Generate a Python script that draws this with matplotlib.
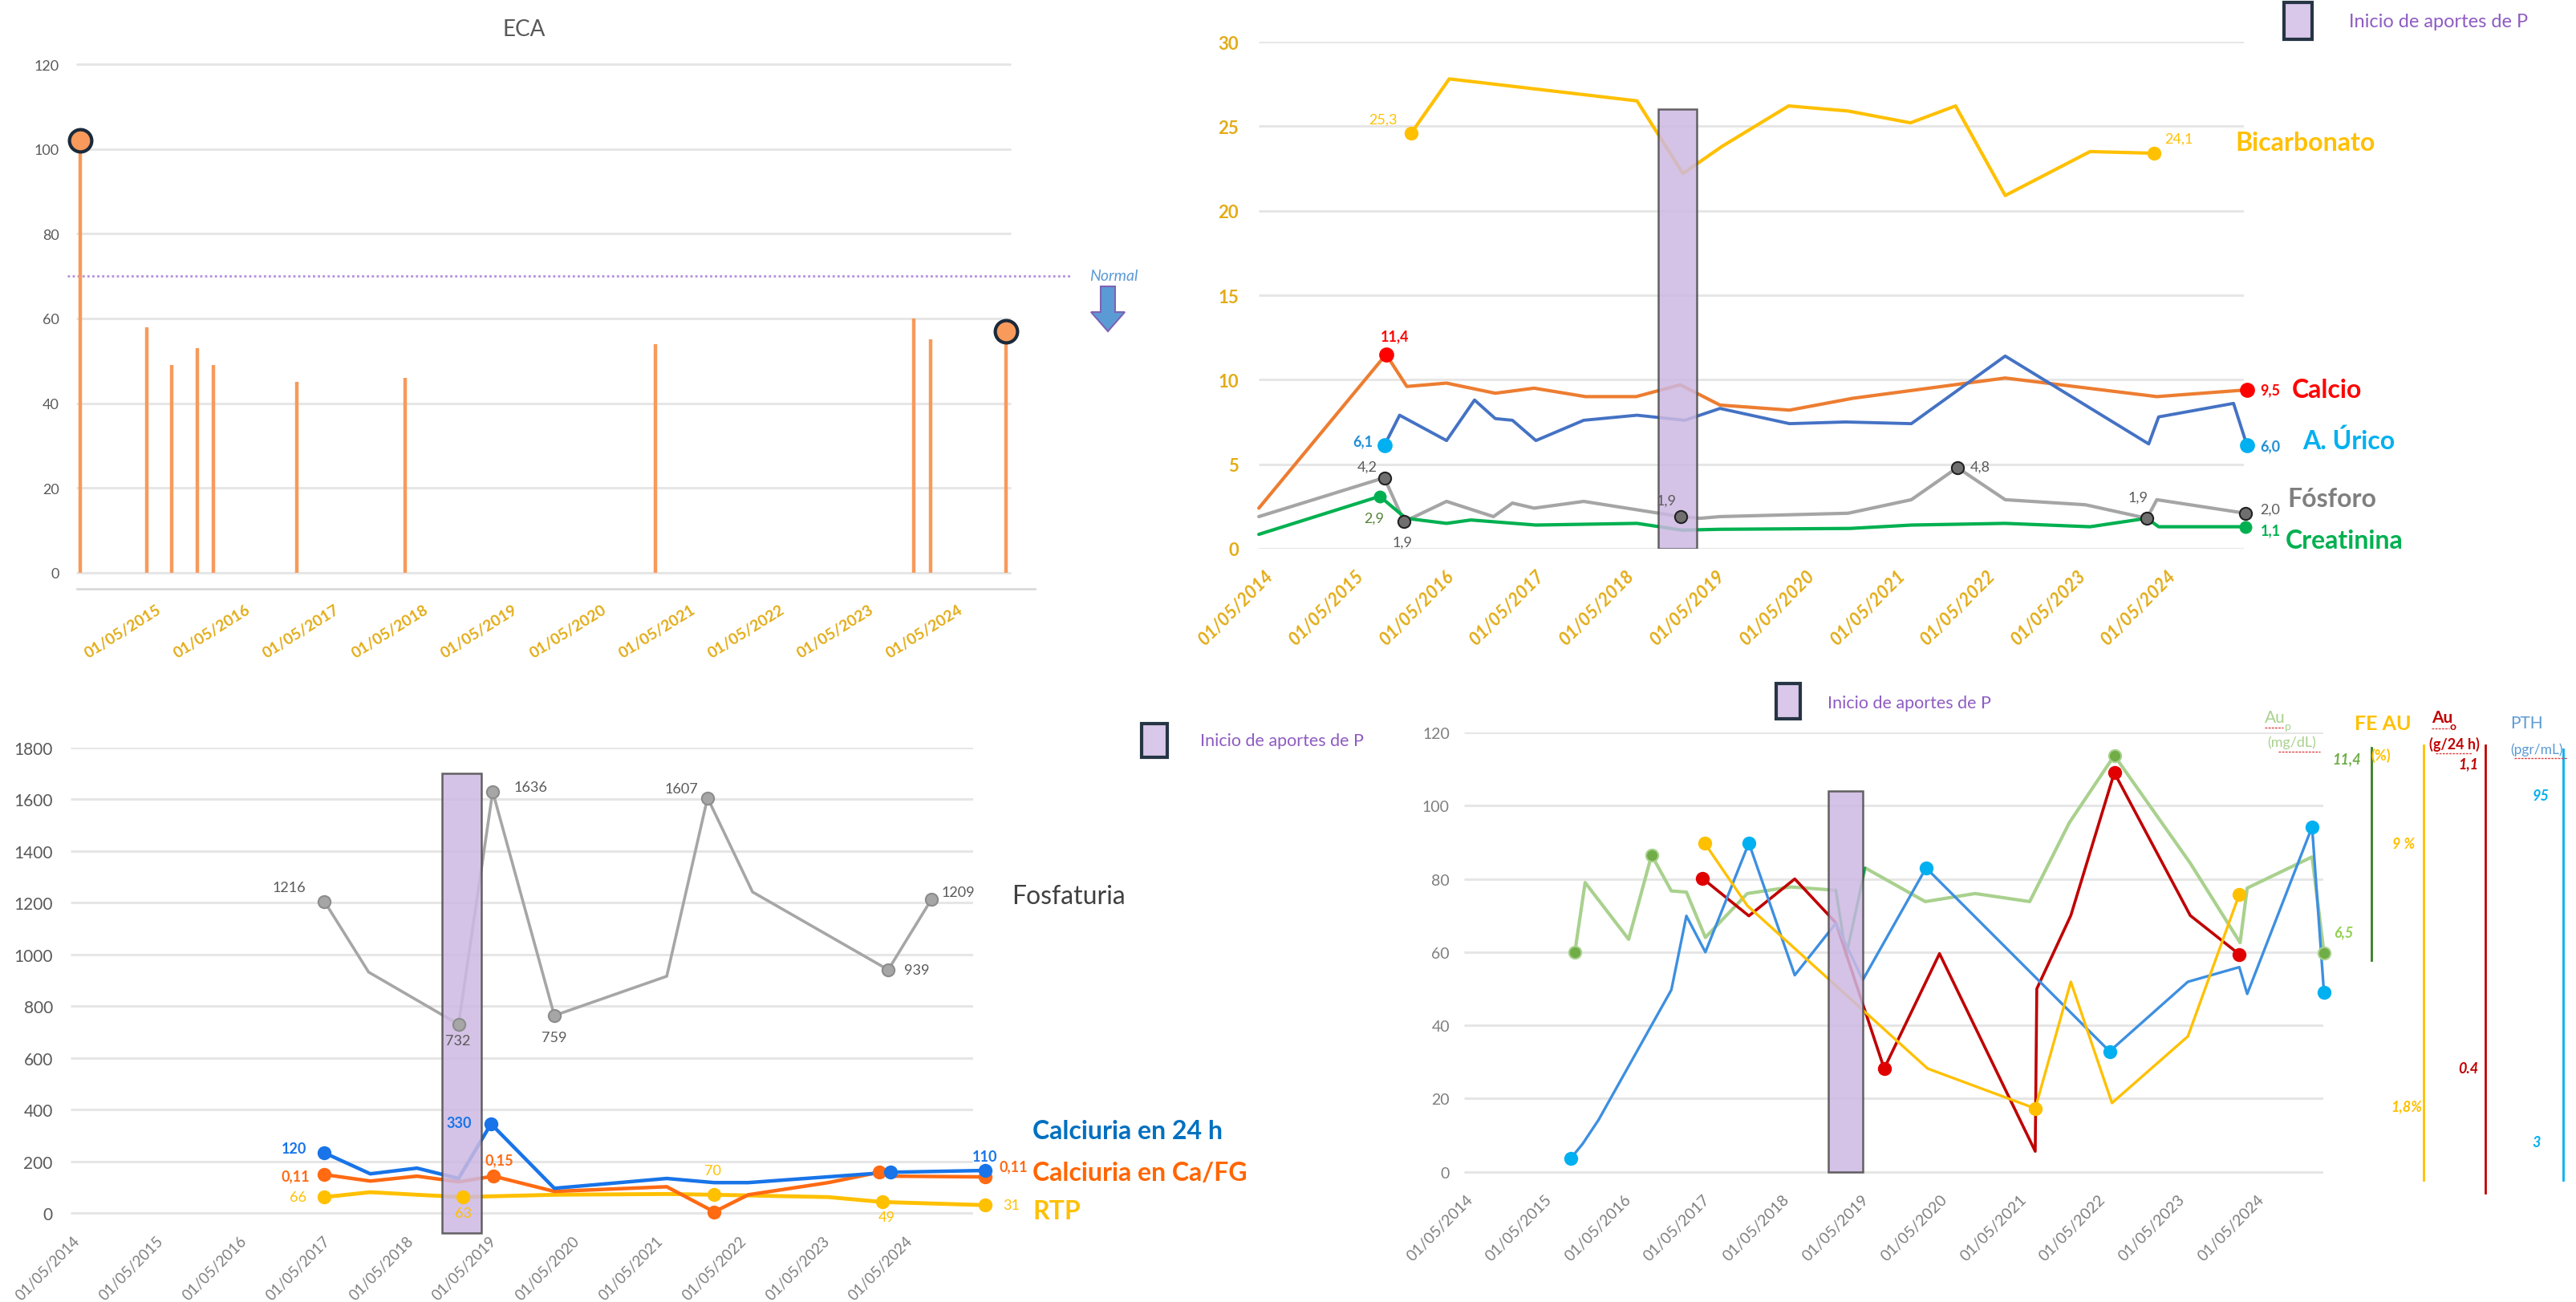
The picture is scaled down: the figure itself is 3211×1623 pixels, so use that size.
import matplotlib
matplotlib.use("Agg")
import matplotlib.pyplot as plt
from matplotlib.transforms import Affine2D
from matplotlib.patches import Rectangle, FancyArrow
from matplotlib.lines import Line2D

plt.rcParams['font.family'] = ['Lato', 'DejaVu Sans']

# ---------------- data ----------------
TICK_YEARS = [2014.33 + i for i in range(11)]
TICK_LABELS = ["01/05/%d" % y for y in range(2014, 2025)]

# Panel 1: ECA
eca_dates = [2014.47, 2015.22, 2015.50, 2015.79, 2015.97, 2016.91, 2018.12, 2020.93, 2023.83, 2024.02, 2024.87]
eca_vals = [102, 58, 49, 53, 49, 45, 46, 54, 60, 55, 57]
eca_normal = 70

# Panel 2: blood values
bic_dates = [2015.95, 2016.37, 2018.45, 2018.96, 2019.39, 2020.13, 2020.79, 2021.48, 2021.98, 2022.53, 2023.47, 2024.18]
bic_vals = [24.6, 27.8, 26.5, 22.2, 23.8, 26.2, 25.9, 25.2, 26.2, 20.9, 23.5, 23.4]
ca_dates = [2014.26, 2015.67, 2015.90, 2016.34, 2016.88, 2017.31, 2017.88, 2018.44, 2018.93, 2019.37, 2020.14, 2020.84, 2022.53, 2024.21, 2025.21]
ca_vals = [2.4, 11.5, 9.6, 9.8, 9.2, 9.5, 9.0, 9.0, 9.7, 8.5, 8.2, 8.9, 10.1, 9.0, 9.4]
ur_dates = [2015.65, 2015.82, 2016.34, 2016.65, 2016.88, 2017.07, 2017.33, 2017.86, 2018.45, 2018.98, 2019.37, 2020.14, 2020.76, 2021.49, 2022.53, 2024.12, 2024.23, 2025.06, 2025.21]
ur_vals = [6.1, 7.9, 6.4, 8.8, 7.7, 7.6, 6.4, 7.6, 7.9, 7.6, 8.3, 7.4, 7.5, 7.4, 11.4, 6.2, 7.8, 8.6, 6.1]
p_dates = [2014.26, 2015.65, 2015.87, 2016.34, 2016.86, 2017.07, 2017.31, 2017.86, 2018.93, 2019.15, 2019.37, 2020.79, 2021.49, 2022.00, 2022.53, 2023.42, 2024.10, 2024.21, 2025.19]
p_vals = [1.9, 4.2, 1.6, 2.8, 1.9, 2.7, 2.4, 2.8, 1.9, 1.8, 1.9, 2.1, 2.9, 4.8, 2.9, 2.6, 1.8, 2.9, 2.1]
cr_dates = [2014.26, 2015.60, 2015.89, 2016.34, 2016.61, 2017.33, 2018.45, 2018.95, 2019.37, 2020.81, 2021.49, 2022.53, 2023.47, 2024.10, 2024.23, 2025.19]
cr_vals = [0.85, 3.1, 1.8, 1.5, 1.7, 1.4, 1.5, 1.1, 1.15, 1.2, 1.4, 1.5, 1.3, 1.8, 1.3, 1.3]
p2_start, p2_width, p2_height = 2018.90, 0.43, 26

# Panel 3: urine
fos_dates = [2017.35, 2017.88, 2018.96, 2019.37, 2020.11, 2021.46, 2021.95, 2022.49, 2024.12, 2024.64]
fos_vals = [1205, 932, 730, 1630, 764, 916, 1606, 1242, 941, 1214]
c24_dates = [2017.35, 2017.90, 2018.46, 2018.96, 2019.35, 2020.11, 2021.46, 2022.03, 2022.44, 2024.15, 2025.28]
c24_vals = [233, 152, 174, 134, 345, 96, 134, 118, 118, 158, 165]
cfg_dates = [2017.35, 2017.90, 2018.46, 2018.96, 2019.38, 2020.11, 2021.46, 2022.03, 2022.44, 2023.40, 2024.01, 2024.15, 2025.28]
cfg_vals = [149, 124, 143, 121, 143, 84, 102, 5, 71, 118, 158, 143, 140]
rtp_dates = [2017.35, 2017.90, 2018.46, 2019.01, 2019.35, 2020.11, 2021.46, 2022.03, 2023.40, 2024.05, 2025.28]
rtp_vals = [62, 81, 71, 62, 65, 71, 74, 71, 62, 43, 31]
p3_start, p3_width, p3_bottom, p3_top = 2019.00, 0.47, -78, 1700

# Panel 4: uric acid / PTH
aup_dates = [2015.71, 2015.84, 2016.39, 2016.68, 2016.93, 2017.12, 2017.36, 2017.89, 2018.44, 2019.01, 2019.14, 2019.38, 2020.14, 2020.77, 2021.46, 2021.96, 2022.53, 2023.49, 2024.12, 2024.21, 2025.03, 2025.18]
aup_vals = [60, 79, 63.5, 86.5, 76.7, 76.4, 64, 76, 77.8, 76.9, 59, 83, 73.8, 76, 73.8, 95.3, 113.7, 84.3, 62.6, 77.5, 86, 59.8]
auo_dates = [2017.32, 2017.91, 2018.49, 2019.01, 2019.62, 2020.32, 2021.53, 2021.55, 2021.98, 2022.53, 2023.49, 2024.11]
auo_vals = [80.2, 69.9, 80, 68, 28.2, 59.6, 5.6, 50, 70, 109, 70, 59.4]
pth_dates = [2015.66, 2015.81, 2016.01, 2016.93, 2017.12, 2017.36, 2017.91, 2018.49, 2019.01, 2019.35, 2020.15, 2022.47, 2023.46, 2024.11, 2024.21, 2025.03, 2025.18]
pth_vals = [3.7, 7.7, 14.2, 49.7, 69.9, 60, 89.8, 53.7, 67.9, 52.4, 83, 32.9, 51.9, 55.9, 48.6, 94.2, 49]
fe_dates = [2017.35, 2017.89, 2020.17, 2021.53, 2021.98, 2022.50, 2023.46, 2024.11]
fe_vals = [89.8, 72.7, 28.2, 17.3, 51.9, 18.8, 37, 75.8]
p4_start, p4_width, p4_height = 2019.13, 0.44, 104

# ---------------- figure ----------------
W, H, DPI = 3212, 1624, 100
fig = plt.figure(figsize=(W / DPI, H / DPI), dpi=DPI)
fig.patch.set_facecolor('white')
P = Affine2D().scale(1 / DPI, -1 / DPI).translate(0, H / DPI) + fig.dpi_scale_trans


def T(x, y, s, ha='center', va='center', **kw):
    fig.text(x, y, s, transform=P, ha=ha, va=va, **kw)


def make_ax(L, T_, R, B, a, b, ylim):
    ax = fig.add_axes([L / W, 1 - B / H, (R - L) / W, (B - T_) / H])
    ax.set_xlim(2014.33 + (L - a) / b, 2014.33 + (R - a) / b)
    ax.set_ylim(*ylim)
    for s in ax.spines.values():
        s.set_visible(False)
    ax.patch.set_alpha(0)
    ax.tick_params(length=0)
    return ax


def px2yr(px, a, b):
    return 2014.33 + (px - a) / b


def series(ax, x, y, color, lw, idx=(), mfc=None, mec=None, ms=10, z=3):
    ax.plot(x, y, color=color, lw=lw, solid_joinstyle='round', solid_capstyle='round',
            zorder=z, clip_on=False)
    if idx:
        ax.plot([x[i] for i in idx], [y[i] for i in idx], 'o', ms=ms,
                mfc=mfc or color, mec=mec or mfc or color, mew=1.5, zorder=6, clip_on=False)


GOLD = '#E3AC17'
GRID = '#E6E6E6'

# ---------------- Panel 1: ECA ----------------
a1, b1 = 84, 111
ax1 = make_ax(96, 81, 1290, 735, a1, b1, (-3.79, 120))
ax1.spines['bottom'].set_visible(True)
ax1.spines['bottom'].set_color('#D9D9D9')
ax1.spines['bottom'].set_linewidth(2)
ax1.hlines(range(0, 121, 20), px2yr(95, a1, b1), px2yr(1260, a1, b1), color=GRID, lw=2.2, zorder=1, clip_on=False)
ax1.vlines(eca_dates, 0, eca_vals, color='#F79A5B', lw=3.2, zorder=3)
ax1.plot([eca_dates[0], eca_dates[-1]], [eca_vals[0], eca_vals[-1]], 'o', ms=20,
         mfc='#F79A5B', mec='#1B2A3A', mew=3, zorder=5, clip_on=False)
ax1.hlines(eca_normal, px2yr(84, a1, b1), px2yr(1335, a1, b1), color='#B48FE0', lw=2,
           linestyle=(0, (1, 1.2)), zorder=2, clip_on=False)
ax1.set_yticks(range(0, 121, 20))
ax1.set_yticklabels([str(v) for v in range(0, 121, 20)], color='#595959', fontsize=13)
ax1.tick_params(axis='y', pad=16)
ax1.set_xticks(TICK_YEARS[1:])
ax1.set_xticklabels(TICK_LABELS[1:], rotation=32, ha='right', rotation_mode='anchor',
                    color=GOLD, fontsize=14, fontweight='bold')
ax1.tick_params(axis='x', pad=12)
T(653, 37, 'ECA', fontsize=20, color='#595959')
T(1388, 344, 'Normal', fontsize=14, color='#5B9BD5', style='italic')
fig.add_artist(FancyArrow(1381, 358, 0, 56, width=18, head_width=42, head_length=24,
                          length_includes_head=True, transform=P, fc='#5B9BD5', ec='#7E62B3', lw=1.5))

# ---------------- Panel 2 ----------------
a2, b2 = 1577, 112.5
ax2 = make_ax(1569, 53, 2797, 685, a2, b2, (0, 30))
ax2.hlines(range(0, 31, 5), *ax2.get_xlim(), color=GRID, lw=2.2, zorder=1)
ax2.set_yticks(range(0, 31, 5))
ax2.set_yticklabels([str(v) for v in range(0, 31, 5)], color=GOLD, fontsize=16, fontweight='bold')
ax2.tick_params(axis='y', pad=18)
ax2.set_xticks(TICK_YEARS)
ax2.set_xticklabels(TICK_LABELS, rotation=45, ha='right', rotation_mode='anchor',
                    color=GOLD, fontsize=16, fontweight='bold', style='italic')
ax2.tick_params(axis='x', pad=16)
series(ax2, bic_dates, bic_vals, '#FFC000', 3, idx=(0, len(bic_vals) - 1), ms=11)
series(ax2, ca_dates, ca_vals, '#ED7D31', 3, idx=(1, len(ca_vals) - 1), mfc='#FF0000', ms=12)
series(ax2, ur_dates, ur_vals, '#4472C4', 2.8, idx=(0, len(ur_vals) - 1), mfc='#00B0F0', ms=12)
series(ax2, p_dates, p_vals, '#A5A5A5', 3, idx=(1, 2, 8, 13, 16, 18), mfc='#6F6F6F', mec='#222222', ms=11)
series(ax2, cr_dates, cr_vals, '#00B050', 3, idx=(1, len(cr_vals) - 1), ms=10)
ax2.bar([p2_start], [p2_height], width=p2_width, color='#CDB9E2', alpha=0.85,
        edgecolor='#4A4A4A', lw=1.8, zorder=4)

lbl = dict(fontsize=13)
T(1724, 150, '25,3', color='#FFC000', **lbl)
T(2716, 174, '24,1', color='#FFC000', **lbl)
T(1739, 420, '11,4', color='#FF0000', fontweight='bold', **lbl)
T(1699, 551, '6,1', color='#1F8FD6', fontweight='bold', **lbl)
T(1704, 583, '4,2', color='#595959', **lbl)
T(1713, 647, '2,9', color='#548235', **lbl)
T(1748, 677, '1,9', color='#595959', **lbl)
T(2077, 625, '1,9', color='#595959', **lbl)
T(2468, 583, '4,8', color='#595959', **lbl)
T(2665, 621, '1,9', color='#595959', **lbl)
T(2830, 636, '2,0', color='#595959', **lbl)
T(2830, 487, '9,5', color='#FF0000', fontweight='bold', **lbl)
T(2830, 557, '6,0', color='#1F8FD6', fontweight='bold', **lbl)
T(2830, 662, '1,1', color='#00B050', fontweight='bold', **lbl)
big = dict(fontsize=23, fontweight='bold', ha='left')
T(2786, 178, 'Bicarbonato', color='#FFC000', **big)
T(2857, 487, 'Calcio', color='#FF0000', **big)
T(2870, 550, 'A. Úrico', color='#00B0F0', **big)
T(2851, 623, 'Fósforo', color='#7F7F7F', **big)
T(2849, 675, 'Creatinina', color='#00B050', **big)

# legend boxes
LEG_FC, LEG_EC, LEG_TC = '#D9C8EA', '#263545', '#8E5CC2'
fig.add_artist(Rectangle((2847, 4), 35, 46, transform=P, fc=LEG_FC, ec=LEG_EC, lw=3))
T(2928, 27, 'Inicio de aportes de P', ha='left', color=LEG_TC, fontsize=17)
fig.add_artist(Rectangle((1423, 903), 32, 42, transform=P, fc=LEG_FC, ec=LEG_EC, lw=3))
T(1496, 924, 'Inicio de aportes de P', ha='left', color=LEG_TC, fontsize=15.5)
fig.add_artist(Rectangle((2214, 853), 30, 44, transform=P, fc=LEG_FC, ec=LEG_EC, lw=3))
T(2278, 877, 'Inicio de aportes de P', ha='left', color=LEG_TC, fontsize=15.5)

# ---------------- Panel 3 ----------------
a3, b3 = 91, 103.8
ax3 = make_ax(88, 933, 1213, 1539, a3, b3, (-80, 1800))
ax3.hlines(range(0, 1801, 200), *ax3.get_xlim(), color=GRID, lw=2.2, zorder=1)
ax3.set_yticks(range(0, 1801, 200))
ax3.set_yticklabels([str(v) for v in range(0, 1801, 200)], color='#595959', fontsize=15)
ax3.tick_params(axis='y', pad=16)
ax3.set_xticks(TICK_YEARS)
ax3.set_xticklabels(TICK_LABELS, rotation=45, ha='right', rotation_mode='anchor',
                    color='#7F7F7F', fontsize=13.5)
ax3.tick_params(axis='x', pad=0)
series(ax3, fos_dates, fos_vals, '#A6A6A6', 2.6, idx=(0, 2, 3, 4, 6, 8, 9), mfc='#A6A6A6', mec='#8C8C8C', ms=11)
series(ax3, rtp_dates, rtp_vals, '#FFC000', 3.5, idx=(0, 3, 7, 9, 10), ms=11)
series(ax3, cfg_dates, cfg_vals, '#FF6A13', 3.2, idx=(0, 4, 7, 10, 12), ms=11)
series(ax3, c24_dates, c24_vals, '#1874E8', 3.2, idx=(0, 4, 9, 10), ms=11)
ax3.bar([p3_start], [p3_top - p3_bottom], bottom=p3_bottom, width=p3_width, color='#CDB9E2',
        alpha=0.85, edgecolor='#4A4A4A', lw=1.8, zorder=4, clip_on=False)

n3 = dict(fontsize=13)
for (x, y, s) in [(360, 1107, '1216'), (661, 982, '1636'), (571, 1298, '732'), (691, 1294, '759'),
                  (849, 984, '1607'), (1143, 1210, '939'), (1194, 1113, '1209')]:
    T(x, y, s, color='#595959', **n3)
for (x, y, s) in [(366, 1432, '120'), (572, 1400, '330'), (1228, 1442, '110')]:
    T(x, y, s, color='#1874E8', fontweight='bold', **n3)
for (x, y, s) in [(368, 1467, '0,11'), (622, 1447, '0,15'), (1263, 1455, '0,11')]:
    T(x, y, s, color='#FF6A13', fontweight='bold', **n3)
for (x, y, s) in [(371, 1493, '66'), (577, 1513, '63'), (888, 1460, '70'), (1105, 1518, '49'), (1261, 1503, '31')]:
    T(x, y, s, color='#FFC000', **n3)
T(1261, 1118, 'Fosfaturia', ha='left', color='#404040', fontsize=23)
T(1287, 1410, 'Calciuria en 24 h', color='#0070C0', **big)
T(1287, 1463, 'Calciuria en Ca/FG', color='#FF6600', **big)
T(1287, 1510, 'RTP', color='#FFC000', **big)

# ---------------- Panel 4 ----------------
a4, b4 = 1827, 98.6
ax4 = make_ax(1825, 914, 2896, 1480, a4, b4, (-4, 120))
ax4.hlines(range(0, 121, 20), *ax4.get_xlim(), color=GRID, lw=2.2, zorder=1)
ax4.set_yticks(range(0, 121, 20))
ax4.set_yticklabels([str(v) for v in range(0, 121, 20)], color='#7F7F7F', fontsize=14)
ax4.tick_params(axis='y', pad=13)
ax4.set_xticks(TICK_YEARS)
ax4.set_xticklabels(TICK_LABELS, rotation=45, ha='right', rotation_mode='anchor',
                    color='#7F7F7F', fontsize=14)
ax4.tick_params(axis='x', pad=5)
series(ax4, aup_dates, aup_vals, '#A9D18E', 3, idx=(0, 3, 16, 21), mfc='#70AD47', mec='#A9D18E', ms=11)
ax4.plot(aup_dates[9:12], aup_vals[9:12], color='#00B050', lw=1.8, zorder=3)
series(ax4, auo_dates, auo_vals, '#C00000', 2.6, idx=(0, 4, 9, 11), mfc='#E00000', ms=11)
series(ax4, pth_dates, pth_vals, '#3D8FE0', 2.4, idx=(0, 6, 10, 11, 15, 16), mfc='#00B0F0', ms=11)
series(ax4, fe_dates, fe_vals, '#FFC000', 2.4, idx=(0, 3, 7), ms=11)
ax4.bar([p4_start], [p4_height], width=p4_width, color='#CDB9E2', alpha=0.85,
        edgecolor='#4A4A4A', lw=1.8, zorder=4)

# side scales
for (x, y0, y1, c) in [(2956, 933, 1198, '#3A7D22'), (3021, 930, 1472, '#FFC000'),
                       (3098, 930, 1488, '#C00000'), (3195, 935, 1472, '#00B0F0')]:
    fig.add_artist(Line2D([x, x], [y0, y1], transform=P, color=c, lw=2))
T(2823, 895, 'Au', ha='left', color='#A9D18E', fontsize=15)
T(2848, 906, 'p', ha='left', color='#A9D18E', fontsize=10)
T(2826, 926, '(mg/dL)', ha='left', color='#A9D18E', fontsize=13)
T(2935, 903, 'FE AU', ha='left', color='#FFC000', fontsize=18, fontweight='bold')
T(2955, 942, '(%)', ha='left', color='#FFC000', fontsize=13, fontweight='bold')
T(3031, 895, 'Au', ha='left', color='#C00000', fontsize=15, fontweight='bold')
T(3054, 906, 'o', ha='left', color='#C00000', fontsize=10, fontweight='bold')
T(3028, 928, '(g/24 h)', ha='left', color='#C00000', fontsize=13, fontweight='bold')
T(3129, 902, 'PTH', ha='left', color='#5B9BD5', fontsize=15)
T(3129, 935, '(pgr/mL)', ha='left', color='#5B9BD5', fontsize=12.5)
for (x0, x1, y) in [(2823, 2846, 908), (2840, 2892, 938), (3031, 3053, 909), (3036, 3082, 940), (3134, 3200, 946)]:
    fig.add_artist(Line2D([x0, x1], [y, y], transform=P, color='#E04040', lw=1, ls=(0, (2, 1))))
sv = dict(fontsize=13, fontweight='bold', style='italic')
T(2925, 947, '11,4', color='#70AD47', **sv)
T(2921, 1163, '6,5', color='#92D050', **sv)
T(2996, 1053, '9 %', color='#FFC000', **sv)
T(3000, 1380, '1,8%', color='#FFC000', **sv)
T(3077, 953, '1,1', color='#C00000', **sv)
T(3077, 1333, '0.4', color='#C00000', **sv)
T(3167, 992, '95', color='#00B0F0', **sv)
T(3162, 1425, '3', color='#00B0F0', **sv)

fig.savefig('out.png', dpi=DPI, facecolor='white')
